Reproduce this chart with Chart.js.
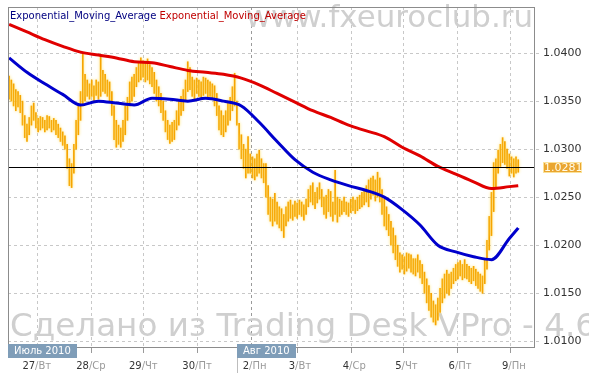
<!DOCTYPE html>
<html>
<head>
<meta charset="utf-8">
<script src="https://cdn.jsdelivr.net/npm/chart.js@4.4.0/dist/chart.umd.min.js"></script>
<style>
  body { margin: 0; background: #fff; }
  canvas { display: block; }
</style>
</head>
<body>
<canvas id="emaChart" width="589" height="379"></canvas>
<script>
// hourly bars, EUR/CHF-like quotes (low / high)
const lows = [
  1.0352,1.0350,1.0345,1.0340,1.0344,1.0338,1.0325,1.0312,1.0308,1.0315,
  1.0325,1.0330,1.0322,1.0318,1.0320,1.0322,1.0318,1.0320,1.0322,1.0318,
  1.0320,1.0315,1.0312,1.0308,1.0304,1.0300,1.0280,1.0262,1.0260,1.0275,
  1.0300,1.0315,1.0330,1.0345,1.0350,1.0355,1.0352,1.0355,1.0350,1.0356,
  1.0352,1.0355,1.0360,1.0358,1.0355,1.0350,1.0335,1.0310,1.0302,1.0305,
  1.0302,1.0308,1.0315,1.0330,1.0345,1.0350,1.0355,1.0365,1.0370,1.0372,
  1.0375,1.0370,1.0372,1.0368,1.0365,1.0358,1.0350,1.0345,1.0338,1.0330,
  1.0318,1.0310,1.0306,1.0308,1.0310,1.0320,1.0325,1.0335,1.0340,1.0350,
  1.0360,1.0362,1.0355,1.0352,1.0358,1.0355,1.0352,1.0356,1.0358,1.0354,
  1.0355,1.0352,1.0345,1.0335,1.0320,1.0315,1.0313,1.0318,1.0325,1.0330,
  1.0340,1.0345,1.0325,1.0300,1.0290,1.0280,1.0270,1.0275,1.0275,1.0270,
  1.0268,1.0272,1.0275,1.0270,1.0265,1.0250,1.0232,1.0225,1.0220,1.0225,
  1.0222,1.0218,1.0215,1.0208,1.0220,1.0225,1.0228,1.0226,1.0230,1.0228,
  1.0232,1.0230,1.0226,1.0232,1.0240,1.0245,1.0242,1.0238,1.0244,1.0248,
  1.0240,1.0232,1.0228,1.0235,1.0230,1.0225,1.0232,1.0224,1.0230,1.0232,
  1.0235,1.0232,1.0230,1.0234,1.0236,1.0233,1.0236,1.0238,1.0240,1.0242,
  1.0245,1.0240,1.0248,1.0252,1.0246,1.0250,1.0245,1.0232,1.0220,1.0216,
  1.0210,1.0200,1.0192,1.0185,1.0178,1.0172,1.0175,1.0170,1.0173,1.0176,
  1.0172,1.0170,1.0168,1.0172,1.0166,1.0160,1.0150,1.0140,1.0132,1.0125,
  1.0120,1.0117,1.0122,1.0130,1.0140,1.0145,1.0150,1.0148,1.0155,1.0160,
  1.0163,1.0165,1.0168,1.0164,1.0166,1.0165,1.0162,1.0160,1.0163,1.0158,
  1.0155,1.0152,1.0150,1.0160,1.0175,1.0195,1.0210,1.0235,1.0260,1.0275,
  1.0282,1.0286,1.0284,1.0280,1.0272,1.0275,1.0271,1.0275,1.0276
];
const highs = [
  1.0376,1.0372,1.0368,1.0362,1.0360,1.0356,1.0350,1.0335,1.0326,1.0333,
  1.0345,1.0348,1.0338,1.0332,1.0334,1.0333,1.0330,1.0335,1.0334,1.0330,
  1.0332,1.0330,1.0326,1.0322,1.0318,1.0314,1.0305,1.0290,1.0285,1.0305,
  1.0330,1.0345,1.0360,1.0400,1.0378,1.0372,1.0368,1.0372,1.0366,1.0372,
  1.0370,1.0398,1.0382,1.0378,1.0372,1.0370,1.0360,1.0345,1.0330,1.0325,
  1.0322,1.0330,1.0345,1.0354,1.0370,1.0375,1.0378,1.0385,1.0390,1.0395,
  1.0392,1.0390,1.0394,1.0388,1.0385,1.0380,1.0372,1.0365,1.0358,1.0350,
  1.0340,1.0330,1.0325,1.0328,1.0330,1.0340,1.0350,1.0355,1.0362,1.0372,
  1.0391,1.0385,1.0375,1.0372,1.0374,1.0372,1.0370,1.0375,1.0374,1.0372,
  1.0370,1.0368,1.0366,1.0358,1.0345,1.0340,1.0335,1.0340,1.0350,1.0354,
  1.0365,1.0379,1.0350,1.0327,1.0315,1.0305,1.0300,1.0313,1.0295,1.0292,
  1.0290,1.0295,1.0299,1.0290,1.0285,1.0285,1.0262,1.0250,1.0248,1.0254,
  1.0245,1.0240,1.0238,1.0232,1.0240,1.0245,1.0247,1.0242,1.0246,1.0244,
  1.0247,1.0245,1.0242,1.0248,1.0258,1.0262,1.0265,1.0255,1.0260,1.0265,
  1.0258,1.0250,1.0252,1.0258,1.0256,1.0245,1.0278,1.0250,1.0248,1.0246,
  1.0250,1.0245,1.0244,1.0248,1.0250,1.0247,1.0250,1.0252,1.0255,1.0258,
  1.0262,1.0268,1.0270,1.0272,1.0268,1.0276,1.0270,1.0258,1.0248,1.0240,
  1.0232,1.0225,1.0218,1.0210,1.0200,1.0192,1.0190,1.0188,1.0192,1.0191,
  1.0190,1.0186,1.0186,1.0190,1.0184,1.0180,1.0172,1.0165,1.0158,1.0150,
  1.0142,1.0138,1.0145,1.0155,1.0165,1.0170,1.0174,1.0170,1.0172,1.0176,
  1.0180,1.0182,1.0184,1.0180,1.0185,1.0180,1.0178,1.0176,1.0178,1.0175,
  1.0172,1.0170,1.0168,1.0185,1.0205,1.0230,1.0255,1.0286,1.0290,1.0299,
  1.0305,1.0312,1.0308,1.0300,1.0295,1.0292,1.0290,1.0292,1.0289
];

// moving averages, read every 8 bars
const emaIndex = [0,8,16,24,32,40,48,56,64,72,80,88,96,104,112,120,128,136,144,152,160,168,176,184,192,200,208,216,224,228];
const redEma = [
  1.0430,1.0422,1.0414,1.0407,1.0401,1.0398,1.0395,1.0391,1.0390,1.0386,
  1.0382,1.0380,1.0378,1.0374,1.0367,1.0358,1.0349,1.0340,1.0333,1.0325,
  1.0319,1.0313,1.0302,1.0293,1.0282,1.0274,1.0266,1.0259,1.0261,1.0262
];
const blueEma = [
  1.0395,1.0380,1.0368,1.0357,1.0346,1.0350,1.0348,1.0346,1.0353,1.0352,
  1.0350,1.0353,1.0350,1.0345,1.0328,1.0308,1.0289,1.0276,1.0268,1.0262,
  1.0257,1.0250,1.0237,1.0221,1.0200,1.0193,1.0188,1.0185,1.0207,1.0218
];

const dayTickIndex = [12.4, 36.5, 60.1, 84, 108.2, 128.8, 153, 176.5, 200.4, 224.3];
const dayNumbers = ['27', '28', '29', '30', '2', '3', '4', '5', '6', '9'];
const dayNames = ['Вт', 'Ср', 'Чт', 'Пт', 'Пн', 'Вт', 'Ср', 'Чт', 'Пт', 'Пн'];
const monthLabels = ['Июль 2010', 'Авг 2010'];
const monthStartIndex = [-0.5, 102];
const yTicks = [1.010, 1.015, 1.020, 1.025, 1.030, 1.035, 1.040];
const lastPrice = 1.0281;
const legendText = 'Exponential_Moving_Average';

const FONT = '"DejaVu Sans", Verdana, sans-serif';

function line(ctx, x1, y1, x2, y2) {
  ctx.beginPath();
  ctx.moveTo(x1, y1);
  ctx.lineTo(x2, y2);
  ctx.stroke();
}

const chartDecor = {
  id: 'chartDecor',
  beforeDatasetsDraw(chart) {
    const { ctx, chartArea: a, scales: { x, y } } = chart;
    ctx.save();
    ctx.lineWidth = 1;
    ctx.setLineDash([3, 3]);
    yTicks.forEach(v => {
      const py = Math.round(y.getPixelForValue(v)) + 0.5;
      ctx.strokeStyle = '#c8c8c8';
      line(ctx, a.left, py, a.right + 7, py);
    });
    dayTickIndex.forEach((v, i) => {
      const px = Math.round(x.getPixelForValue(v)) + 0.5;
      ctx.strokeStyle = dayNumbers[i] === '2' ? '#9a9a9a' : '#c8c8c8';
      line(ctx, px, a.top, px, a.bottom);
    });
    ctx.setLineDash([]);

    // watermarks
    ctx.fillStyle = '#cfcfcf';
    ctx.font = '30px ' + FONT;
    let w = ctx.measureText('www.fxeuroclub.ru').width;
    ctx.font = (30 * 287 / w).toFixed(1) + 'px ' + FONT;
    ctx.textAlign = 'right';
    ctx.textBaseline = 'alphabetic';
    ctx.fillText('www.fxeuroclub.ru', a.right - 2, 27);

    ctx.font = '30px ' + FONT;
    w = ctx.measureText('Сделано из Trading Desk VPro').width;
    ctx.font = (30 * 502 / w).toFixed(1) + 'px ' + FONT;
    ctx.textAlign = 'left';
    ctx.fillText('Сделано из Trading Desk VPro - 4.6', 10, 336);
    ctx.restore();
  },
  beforeDatasetDraw(chart, args) {
    if (args.index === 2) {
      const ctx = chart.ctx;
      ctx.save();
      ctx.shadowColor = 'rgba(255, 222, 90, 0.95)';
      ctx.shadowBlur = 3;
    }
  },
  afterDatasetDraw(chart, args) {
    if (args.index === 2) chart.ctx.restore();
  },
  afterDatasetsDraw(chart) {
    const { ctx, chartArea: a, scales: { x, y } } = chart;
    ctx.save();

    // last price line and box
    const py = Math.round(y.getPixelForValue(lastPrice)) + 0.5;
    ctx.strokeStyle = '#000';
    ctx.lineWidth = 1;
    line(ctx, a.left, py, a.right, py);
    ctx.fillStyle = '#eaa630';
    ctx.strokeStyle = '#fbe29a';
    ctx.fillRect(a.right + 8, py - 5.5, 39, 11);
    ctx.strokeRect(a.right + 8.5, py - 5, 38, 10);
    ctx.fillStyle = '#fffbe8';
    ctx.font = '11px ' + FONT;
    ctx.textAlign = 'left';
    ctx.textBaseline = 'middle';
    ctx.fillText(lastPrice.toFixed(4), a.right + 9, py + 0.5);

    // legend
    ctx.font = '10px ' + FONT;
    ctx.textBaseline = 'alphabetic';
    ctx.fillStyle = '#000080';
    ctx.fillText(legendText, a.left + 2, 19);
    const lw = ctx.measureText(legendText + ' ').width;
    ctx.fillStyle = '#c00000';
    ctx.fillText(legendText, a.left + 2 + lw, 19);

    // frame
    ctx.strokeStyle = '#8c8c8c';
    ctx.strokeRect(a.left + 0.5, a.top + 0.5, a.width - 1, a.height - 1);

    // tick marks under the axis
    ctx.strokeStyle = '#9a9a9a';
    dayTickIndex.forEach(v => {
      const px = Math.round(x.getPixelForValue(v)) + 0.5;
      line(ctx, px, a.bottom, px, a.bottom + 5);
    });

    // day labels: number dark, weekday grey
    ctx.font = '10px ' + FONT;
    ctx.textBaseline = 'middle';
    const slashW = ctx.measureText('/').width;
    dayTickIndex.forEach((v, i) => {
      const px = x.getPixelForValue(v);
      ctx.textAlign = 'right';
      ctx.fillStyle = '#333';
      ctx.fillText(dayNumbers[i], px - slashW / 2, 366);
      ctx.textAlign = 'left';
      ctx.fillStyle = '#999';
      ctx.fillText('/' + dayNames[i], px - slashW / 2, 366);
    });

    // month boxes
    monthLabels.forEach((m, i) => {
      const px = Math.max(a.left, Math.round(x.getPixelForValue(monthStartIndex[i])));
      const bw = Math.round(ctx.measureText(m).width + 12);
      ctx.fillStyle = '#7f9db8';
      ctx.fillRect(px, a.bottom - 4, bw, 14);
      ctx.fillStyle = '#fff';
      ctx.textAlign = 'left';
      ctx.fillText(m, px + 6, a.bottom + 3.5);
      if (i > 0) {
        ctx.strokeStyle = '#bdbdbd';
        line(ctx, px + 0.5, a.bottom + 10, px + 0.5, a.bottom + 25);
      }
    });
    ctx.restore();
  }
};

const ctx = document.getElementById('emaChart').getContext('2d');

const emaChart = new Chart(ctx, {
  type: 'bar',
  data: {
    datasets: [
      {
        type: 'line',
        data: emaIndex.map((v, i) => ({ x: v, y: redEma[i] })),
        borderColor: '#e00000',
        borderWidth: 3,
        pointRadius: 0,
        cubicInterpolationMode: 'monotone',
        order: 1
      },
      {
        type: 'line',
        data: emaIndex.map((v, i) => ({ x: v, y: blueEma[i] })),
        borderColor: '#0000cc',
        borderWidth: 3,
        pointRadius: 0,
        cubicInterpolationMode: 'monotone',
        order: 2
      },
      {
        type: 'bar',
        data: lows.map((l, i) => ({ x: i, y: [l, highs[i]] })),
        backgroundColor: '#f6a400',
        barThickness: 1,
        order: 3
      }
    ]
  },
  options: {
    responsive: false,
    animation: false,
    devicePixelRatio: 1,
    layout: { padding: { left: 8, top: 7, right: 0, bottom: 0 } },
    plugins: { legend: { display: false }, tooltip: { enabled: false } },
    scales: {
      x: {
        type: 'linear',
        min: -0.5,
        max: 235.5,
        offset: false,
        grid: { display: false },
        border: { display: false },
        ticks: { display: false },
        afterFit(s) { s.height = 31; s.paddingLeft = 0; s.paddingRight = 0; }
      },
      y: {
        position: 'right',
        min: 1.0093,
        max: 1.0448,
        grid: { display: false, drawTicks: false },
        border: { display: false },
        ticks: {
          padding: 8,
          color: '#333',
          font: { family: FONT, size: 11 },
          callback: v => v.toFixed(4)
        },
        afterBuildTicks(s) { s.ticks = yTicks.map(v => ({ value: v })); },
        afterFit(s) { s.width = 54; s.paddingTop = 0; s.paddingBottom = 0; }
      }
    }
  },
  plugins: [chartDecor]
});
</script>
</body>
</html>
